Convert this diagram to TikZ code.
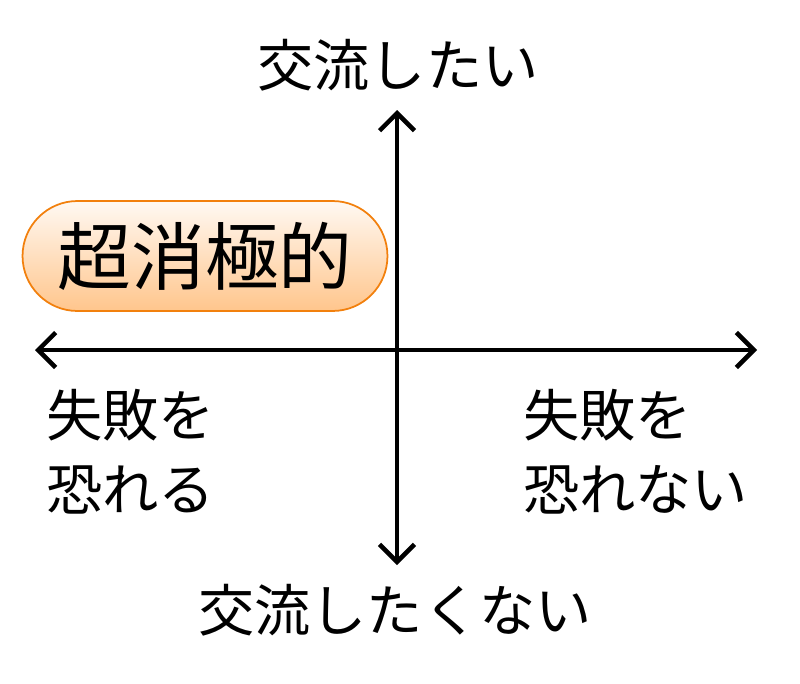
\documentclass[tikz,border=0pt]{standalone}
\usepackage{fontspec}
\setmainfont{Noto Sans CJK JP}
\usetikzlibrary{arrows.meta, positioning}
\begin{document}
\begin{tikzpicture}[
    x=0.02cm, y=-0.02cm,
    axis/.style={draw, line width=2.6pt, {Straight Barb[length=3.5mm,width=7mm]}-{Straight Barb[length=3.5mm,width=7mm]}},
    label/.style={font=\fontsize{32}{42}\selectfont, align=left},
    tagbox/.style={
        draw=orange!80!brown, line width=1pt, rounded corners=1.1cm,
        top color=orange!5, bottom color=orange!45,
        minimum width=7.3cm, minimum height=2.2cm,
        font=\fontsize{42}{46}\selectfont
    }
]
    \useasboundingbox (0,0) rectangle (800,683);
    % axes
    \coordinate (L) at (35,350);
    \coordinate (R) at (757,350);
    \coordinate (T) at (397,110);
    \coordinate (B) at (397,565);
    \draw[axis] (L) -- (R);
    \draw[axis] (T) -- (B);
    % labels
    \node[label] (Up) at (398,65) {交流したい};
    \node[label] (Down) at (395,610) {交流したくない};
    \node[label, anchor=west] (Fear) at (40,452) {失敗を\\恐れる};
    \node[label, anchor=west] (NoFear) at (517,452) {失敗を\\恐れない};
    \node[tagbox] (Passive) at (205,256) {超消極的};
\end{tikzpicture}
\end{document}
